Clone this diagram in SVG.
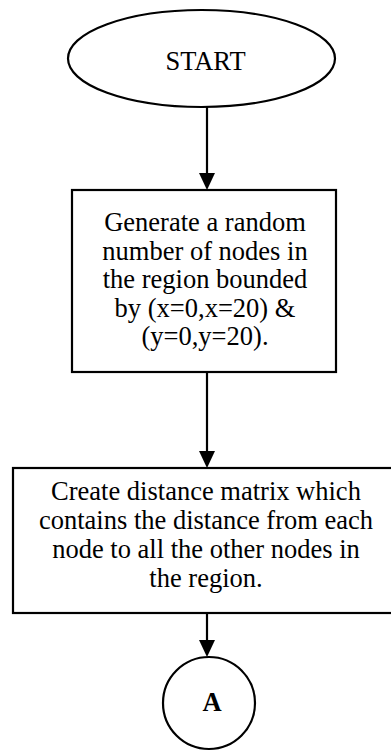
<svg xmlns="http://www.w3.org/2000/svg" width="391" height="754" viewBox="0 0 391 754">
<style>
.shape{fill:#fff;stroke:#000;stroke-width:2.2}
.t{font-family:"Liberation Serif","Times New Roman",serif;font-size:26.5px;fill:#000;text-anchor:middle}
.conn{stroke:#000;stroke-width:2.2;fill:none}
</style>
<defs>
<marker id="ah" markerWidth="16" markerHeight="17" refX="8" refY="17" orient="auto-start-reverse" markerUnits="userSpaceOnUse" viewBox="0 0 16 17">
<path d="M0,0 L16,0 L8,17 Z" fill="#000"/>
</marker>
</defs>
<rect width="391" height="754" fill="#fff"/>
<g id="connectors">
<line class="conn" x1="207" y1="107" x2="207" y2="174"/>
<path d="M199,173 L215,173 L207,190 Z" fill="#000"/>
<line class="conn" x1="207" y1="372" x2="207" y2="452"/>
<path d="M199,451 L215,451 L207,468 Z" fill="#000"/>
<line class="conn" x1="207" y1="613" x2="207" y2="641"/>
<path d="M199,640 L215,640 L207,657 Z" fill="#000"/>
</g>
<g id="start">
<ellipse class="shape" cx="201.5" cy="58.5" rx="133.5" ry="48.5"/>
<text class="t" x="205.5" y="70">START</text>
</g>
<g id="generate">
<rect class="shape" x="72" y="190" width="264" height="182"/>
<text class="t" x="205" y="231">Generate a random</text>
<text class="t" x="205" y="259.5">number of nodes in</text>
<text class="t" x="205" y="288">the region bounded</text>
<text class="t" x="205" y="316.5">by (x=0,x=20) &amp;</text>
<text class="t" x="205" y="345">(y=0,y=20).</text>
</g>
<g id="matrix">
<rect class="shape" x="13" y="468" width="390" height="145"/>
<text class="t" x="206" y="500">Create distance matrix which</text>
<text class="t" x="206" y="529">contains the distance from each</text>
<text class="t" x="206" y="558">node to all the other nodes in</text>
<text class="t" x="206" y="587">the region.</text>
</g>
<g id="connectorA">
<circle class="shape" cx="209" cy="703" r="46"/>
<text class="t" x="212" y="711" font-weight="bold">A</text>
</g>
</svg>
